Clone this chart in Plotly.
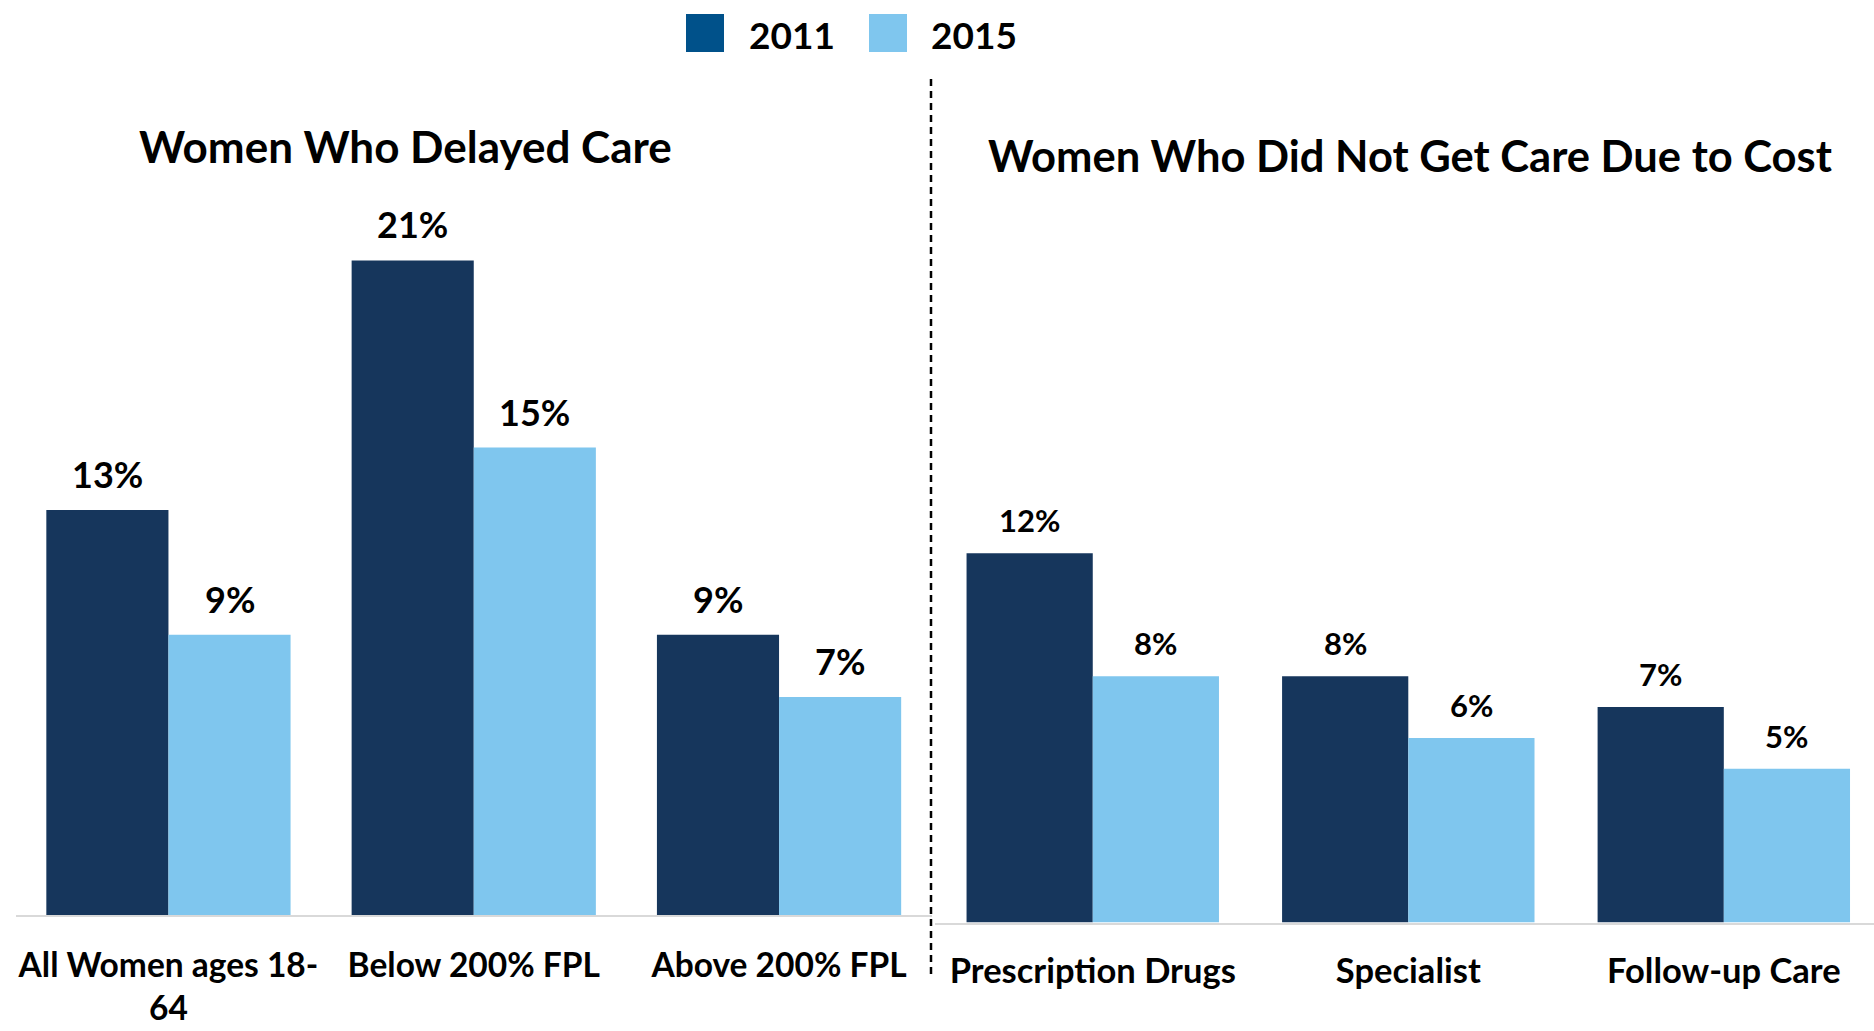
import plotly.graph_objects as go

W, H = 1874, 1031

# Data
years = ["2011", "2015"]
delayed_cats = ["All Women ages 18-", "Below 200% FPL", "Above 200% FPL"]
delayed_ticks = ["All Women ages 18-<br>64", "Below 200% FPL", "Above 200% FPL"]
delayed_2011 = [13, 21, 9]
delayed_2015 = [9, 15, 7]

cost_cats = ["Prescription Drugs", "Specialist", "Follow-up Care"]
cost_2011 = [12, 8, 7]
cost_2015 = [8, 6, 5]

left_title = "Women Who Delayed Care"
right_title = "Women Who Did Not Get Care Due to Cost"

DARK = "#16365C"
LIGHT = "#7FC6EE"
LEGEND_DARK = "#00518A"
FONT = "Lato, Carlito, Calibri, sans-serif"


def px_x(x):
    return x / W


def px_y(y):
    return (H - y) / H


fig = go.Figure()

for vals, color, name in [(delayed_2011, DARK, years[0]), (delayed_2015, LIGHT, years[1])]:
    fig.add_trace(go.Bar(x=delayed_cats, y=vals, name=name, marker_color=color,
                         marker_line_width=0, xaxis="x", yaxis="y", showlegend=False))
for vals, color, name in [(cost_2011, DARK, years[0]), (cost_2015, LIGHT, years[1])]:
    fig.add_trace(go.Bar(x=cost_cats, y=vals, name=name, marker_color=color,
                         marker_line_width=0, xaxis="x2", yaxis="y2", showlegend=False))

annotations = []
# value labels above each bar
for cats, series, xref, yref, fsize, shift in [
    (delayed_cats, [delayed_2011, delayed_2015], "x", "y", 36, 36),
    (cost_cats, [cost_2011, cost_2015], "x2", "y2", 31, 33),
]:
    for k, vals in enumerate(series):
        off = -0.2 if k == 0 else 0.2
        for i, v in enumerate(vals):
            annotations.append(dict(
                x=i + off, y=v, xref=xref, yref=yref, text=f"<b>{v}%</b>",
                showarrow=False, yanchor="middle", yshift=shift,
                font=dict(family=FONT, size=fsize, color="black")))

# panel titles
annotations.append(dict(x=px_x(405), y=px_y(146), xref="paper", yref="paper",
                        text=f"<b>{left_title}</b>", showarrow=False,
                        xanchor="center", yanchor="middle",
                        font=dict(family=FONT, size=44, color="black")))
annotations.append(dict(x=px_x(1410), y=px_y(155), xref="paper", yref="paper",
                        text=f"<b>{right_title}</b>", showarrow=False,
                        xanchor="center", yanchor="middle",
                        font=dict(family=FONT, size=43.5, color="black")))

# legend
legend_items = [(years[0], LEGEND_DARK, 686, 747), (years[1], LIGHT, 869, 929)]
shapes = []
for label, color, sx, tx in legend_items:
    shapes.append(dict(type="rect", xref="paper", yref="paper",
                       x0=px_x(sx), x1=px_x(sx + 38), y0=px_y(52), y1=px_y(14),
                       fillcolor=color, line_width=0))
    annotations.append(dict(x=px_x(tx), y=px_y(34), xref="paper", yref="paper",
                            text=f"<b>{label}</b>", showarrow=False,
                            xanchor="left", yanchor="middle",
                            font=dict(family=FONT, size=37, color="black")))

# dashed divider between panels
shapes.append(dict(type="line", xref="paper", yref="paper",
                   x0=px_x(931), x1=px_x(931), y0=px_y(974), y1=px_y(78),
                   line=dict(color="black", width=2.5, dash="7px,5px")))

axis_common = dict(type="category", showgrid=False, zeroline=False,
                   showline=True, linecolor="#D9D9D9", linewidth=2,
                   ticks="outside", tickcolor="rgba(0,0,0,0)")

fig.update_layout(
    width=W, height=H,
    margin=dict(l=0, r=0, t=0, b=0),
    paper_bgcolor="white", plot_bgcolor="white",
    barmode="group", bargap=0.2, bargroupgap=0,
    xaxis=dict(**axis_common, domain=[px_x(15.8), px_x(931.7)],
               categoryorder="array", categoryarray=delayed_cats,
               tickmode="array", tickvals=delayed_cats,
               ticktext=[f"<b>{t}</b>" for t in delayed_ticks],
               ticklen=19, tickfont=dict(family=FONT, size=33.5, color="black"),
               range=[-0.5, 2.5], anchor="y"),
    yaxis=dict(visible=False, range=[0, 25],
               domain=[px_y(915.4), px_y(915.4 - 25 * 31.19)], anchor="x"),
    xaxis2=dict(**axis_common, domain=[px_x(935), 1],
                categoryorder="array", categoryarray=cost_cats,
                tickmode="array", tickvals=cost_cats,
                ticktext=[f"<b>{t}</b>" for t in cost_cats],
                ticklen=17, tickfont=dict(family=FONT, size=34.5, color="black"),
                range=[-0.5, 2.476], anchor="y2"),
    yaxis2=dict(visible=False, range=[0, 25],
                domain=[px_y(922.5), px_y(922.5 - 25 * 30.77)], anchor="x2"),
    annotations=annotations,
    shapes=shapes,
    showlegend=False,
)

fig.write_html("out.html")
